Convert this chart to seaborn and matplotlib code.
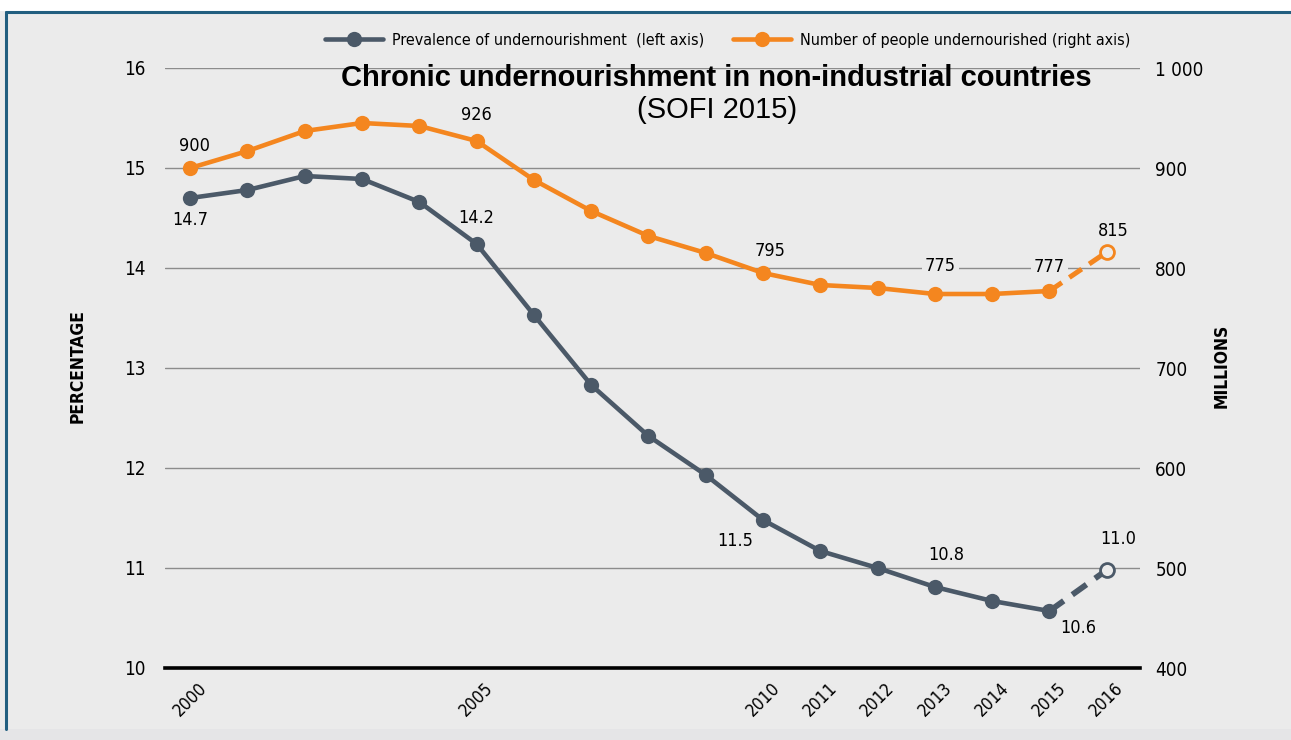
import numpy as np
import pandas as pd
import matplotlib
matplotlib.use("Agg")
import matplotlib.pyplot as plt
import seaborn as sns
from matplotlib import font_manager as fm
from matplotlib.lines import Line2D
from matplotlib.patches import Rectangle

# ---------------- data ----------------
years = [2000, 2001, 2002, 2003, 2004, 2005, 2006, 2007, 2008, 2009,
         2010, 2011, 2012, 2013, 2014, 2015, 2016]
prevalence = [14.7, 14.78, 14.92, 14.89, 14.66, 14.24, 13.53, 12.83, 12.32,
              11.93, 11.48, 11.17, 11.0, 10.81, 10.67, 10.57, 10.98]
people = [900, 917, 937, 945, 942, 927, 888, 857, 832, 815,
          795, 783, 780, 774, 774, 777, 816]
tick_years = [2000, 2005, 2010, 2011, 2012, 2013, 2014, 2015, 2016]
left_ticks = [10, 11, 12, 13, 14, 15, 16]
right_ticks = [400, 500, 600, 700, 800, 900, 1000]
right_labels = ["400", "500", "600", "700", "800", "900", "1 000"]
prev_labels = {2000: "14.7", 2005: "14.2", 2010: "11.5", 2013: "10.8", 2015: "10.6", 2016: "11.0"}
people_labels = {2000: "900", 2005: "926", 2010: "795", 2013: "775", 2015: "777", 2016: "815"}
legend_labels = ["Prevalence of undernourishment  (left axis)",
                 "Number of people undernourished (right axis)"]
title = "Chronic undernourishment in non-industrial countries"
subtitle = "(SOFI 2015)"

df = pd.DataFrame({"year": years, "prevalence": prevalence, "people": people})
solid = df[df.year <= 2015]
proj = df[df.year >= 2015]

# ---------------- fonts ----------------
names = {f.name for f in fm.fontManager.ttflist}
if "Liberation Sans Narrow" in names:
    COND = dict(family="Liberation Sans Narrow")
else:
    COND = dict(family="DejaVu Sans", stretch="condensed")

sns.set_theme(style="white")
plt.rcParams.update({"text.color": "black", "xtick.color": "black",
                     "ytick.color": "black", "axes.labelcolor": "black"})
BG = "#ebebeb"
GREY = "#4b5968"
ORANGE = "#f4861f"

fig = plt.figure(figsize=(12.91, 7.40), dpi=100, facecolor=BG)
ax = fig.add_axes([165/1291, 1-668/740, (1140-165)/1291, 600/740])
ax.set_facecolor("none")
ax2 = ax.twinx()
ax2.set_facecolor("none")

# decorations of the frame
fig.patches.append(Rectangle((0, 1-11/740), 1, 11/740, transform=fig.transFigure,
                             facecolor="white", edgecolor="none", zorder=0))
fig.patches.append(Rectangle((0, 0), 1, 11/740, transform=fig.transFigure,
                             facecolor="#e5e5e7", edgecolor="none", zorder=0))
fig.add_artist(Line2D([6/1291, 1], [1-12/740, 1-12/740], color="#215e7f", lw=2.2,
                      transform=fig.transFigure))
fig.add_artist(Line2D([6/1291, 6/1291], [11/740, 1-12/740], color="#215e7f", lw=2.2,
                      transform=fig.transFigure))

# grid
ax.set_xlim(1999.56, 2016.58)
ax.set_ylim(10, 16)
ax2.set_ylim(400, 1000)
ax.set_yticks(left_ticks)
ax2.set_yticks(right_ticks)
ax.yaxis.grid(True, color="#8c8c8c", lw=1.0, zorder=0)
ax.set_axisbelow(True)
for a in (ax, ax2):
    for s in a.spines.values():
        s.set_visible(False)
ax.spines["bottom"].set_visible(True)
ax.spines["bottom"].set_color("black")
ax.spines["bottom"].set_linewidth(2.6)
ax.spines["bottom"].set_zorder(3)

# lines
LW = 3.3
MS = 11
DASH = (0, (3.0, 1.8))
sns.lineplot(data=solid, x="year", y="prevalence", ax=ax, color=GREY, lw=LW,
             marker="o", markersize=MS, markeredgewidth=0, zorder=4)
sns.lineplot(data=proj, x="year", y="prevalence", ax=ax, color=GREY, lw=4.2,
             linestyle=DASH, zorder=4)
ax.plot([2016], [prevalence[-1]], marker="o", ms=10, mfc=BG, mec=GREY, mew=2, zorder=5)

sns.lineplot(data=solid, x="year", y="people", ax=ax2, color=ORANGE, lw=LW,
             marker="o", markersize=MS, markeredgewidth=0, zorder=4)
sns.lineplot(data=proj, x="year", y="people", ax=ax2, color=ORANGE, lw=3.6,
             linestyle=DASH, zorder=4)
ax2.plot([2016], [people[-1]], marker="o", ms=10, mfc=BG, mec=ORANGE, mew=2, zorder=5)

# ticks
ax.set_xticks(tick_years)
ax.set_xticklabels([str(y) for y in tick_years], rotation=45, ha="center", va="top",
                   fontsize=12.5, **COND)
ax.tick_params(axis="x", length=0, pad=8)
ax.tick_params(axis="y", length=0, pad=14)
ax2.tick_params(axis="y", length=0, pad=11)
ax.set_yticklabels([str(t) for t in left_ticks], fontsize=13.5, **COND)
ax2.set_yticklabels(right_labels, fontsize=13.5, **COND)
ax.set_xlabel("")
ax.set_ylabel("")
ax2.set_ylabel("")

fig.text(78/1291, 1-366/740, "PERCENTAGE", rotation=90, ha="center", va="center",
         fontsize=12.5, fontweight="bold", **COND)
fig.text(1222/1291, 1-366/740, "MILLIONS", rotation=90, ha="center", va="center",
         fontsize=12.5, fontweight="bold", **COND)

# data labels
lbl_kw = dict(fontsize=13, color="black", **COND)
ax.annotate(prev_labels[2000], (2000, prevalence[0]), xytext=(0, -16), textcoords="offset points",
            ha="center", va="center", **lbl_kw)
ax.annotate(prev_labels[2005], (2005, prevalence[5]), xytext=(0, 19), textcoords="offset points",
            ha="center", va="center", **lbl_kw)
ax.annotate(prev_labels[2010], (2010, prevalence[10]), xytext=(-20, -15), textcoords="offset points",
            ha="center", va="center", **lbl_kw)
ax.annotate(prev_labels[2013], (2013, prevalence[13]), xytext=(8, 23), textcoords="offset points",
            ha="center", va="center", **lbl_kw)
ax.annotate(prev_labels[2015], (2015, prevalence[15]), xytext=(21, -12), textcoords="offset points",
            ha="center", va="center", **lbl_kw)
ax.annotate(prev_labels[2016], (2016, prevalence[16]), xytext=(8, 22), textcoords="offset points",
            ha="center", va="center", **lbl_kw)

ax2.annotate(people_labels[2000], (2000, people[0]), xytext=(3, 16), textcoords="offset points",
             ha="center", va="center", **lbl_kw)
ax2.annotate(people_labels[2005], (2005, people[5]), xytext=(0, 19), textcoords="offset points",
             ha="center", va="center", **lbl_kw)
ax2.annotate(people_labels[2010], (2010, people[10]), xytext=(5, 16), textcoords="offset points",
             ha="center", va="center", **lbl_kw)
box = dict(boxstyle="square,pad=0.15", fc=BG, ec="none")
ax2.annotate(people_labels[2013], (2013, people[13]), xytext=(4, 20), textcoords="offset points",
             ha="center", va="center", bbox=box, **lbl_kw)
ax2.annotate(people_labels[2015], (2015, people[15]), xytext=(0, 17), textcoords="offset points",
             ha="center", va="center", bbox=box, **lbl_kw)
ax2.annotate(people_labels[2016], (2016, people[16]), xytext=(5, 15), textcoords="offset points",
             ha="center", va="center", **lbl_kw)

# legend
handles = [Line2D([], [], color=GREY, lw=LW, marker="o", ms=MS, mew=0),
           Line2D([], [], color=ORANGE, lw=LW, marker="o", ms=MS, mew=0)]
leg = fig.legend(handles, legend_labels, loc="center", bbox_to_anchor=(728/1291, 1-40/740),
                 ncol=2, frameon=False, handlelength=3.6, columnspacing=1.8, handletextpad=0.6,
                 prop=fm.FontProperties(size=11.5, **COND))
for t in leg.get_texts():
    t.set_color("black")

# title
fig.text(716/1291, 1-78/740, title, ha="center", va="center", fontsize=21,
         fontweight="bold", family="Liberation Sans", color="black", zorder=6)
fig.text(717/1291, 1-110/740, subtitle, ha="center", va="center", fontsize=21,
         family="Liberation Sans", color="black", zorder=6)

fig.savefig("out.png", dpi=100, facecolor=BG)
